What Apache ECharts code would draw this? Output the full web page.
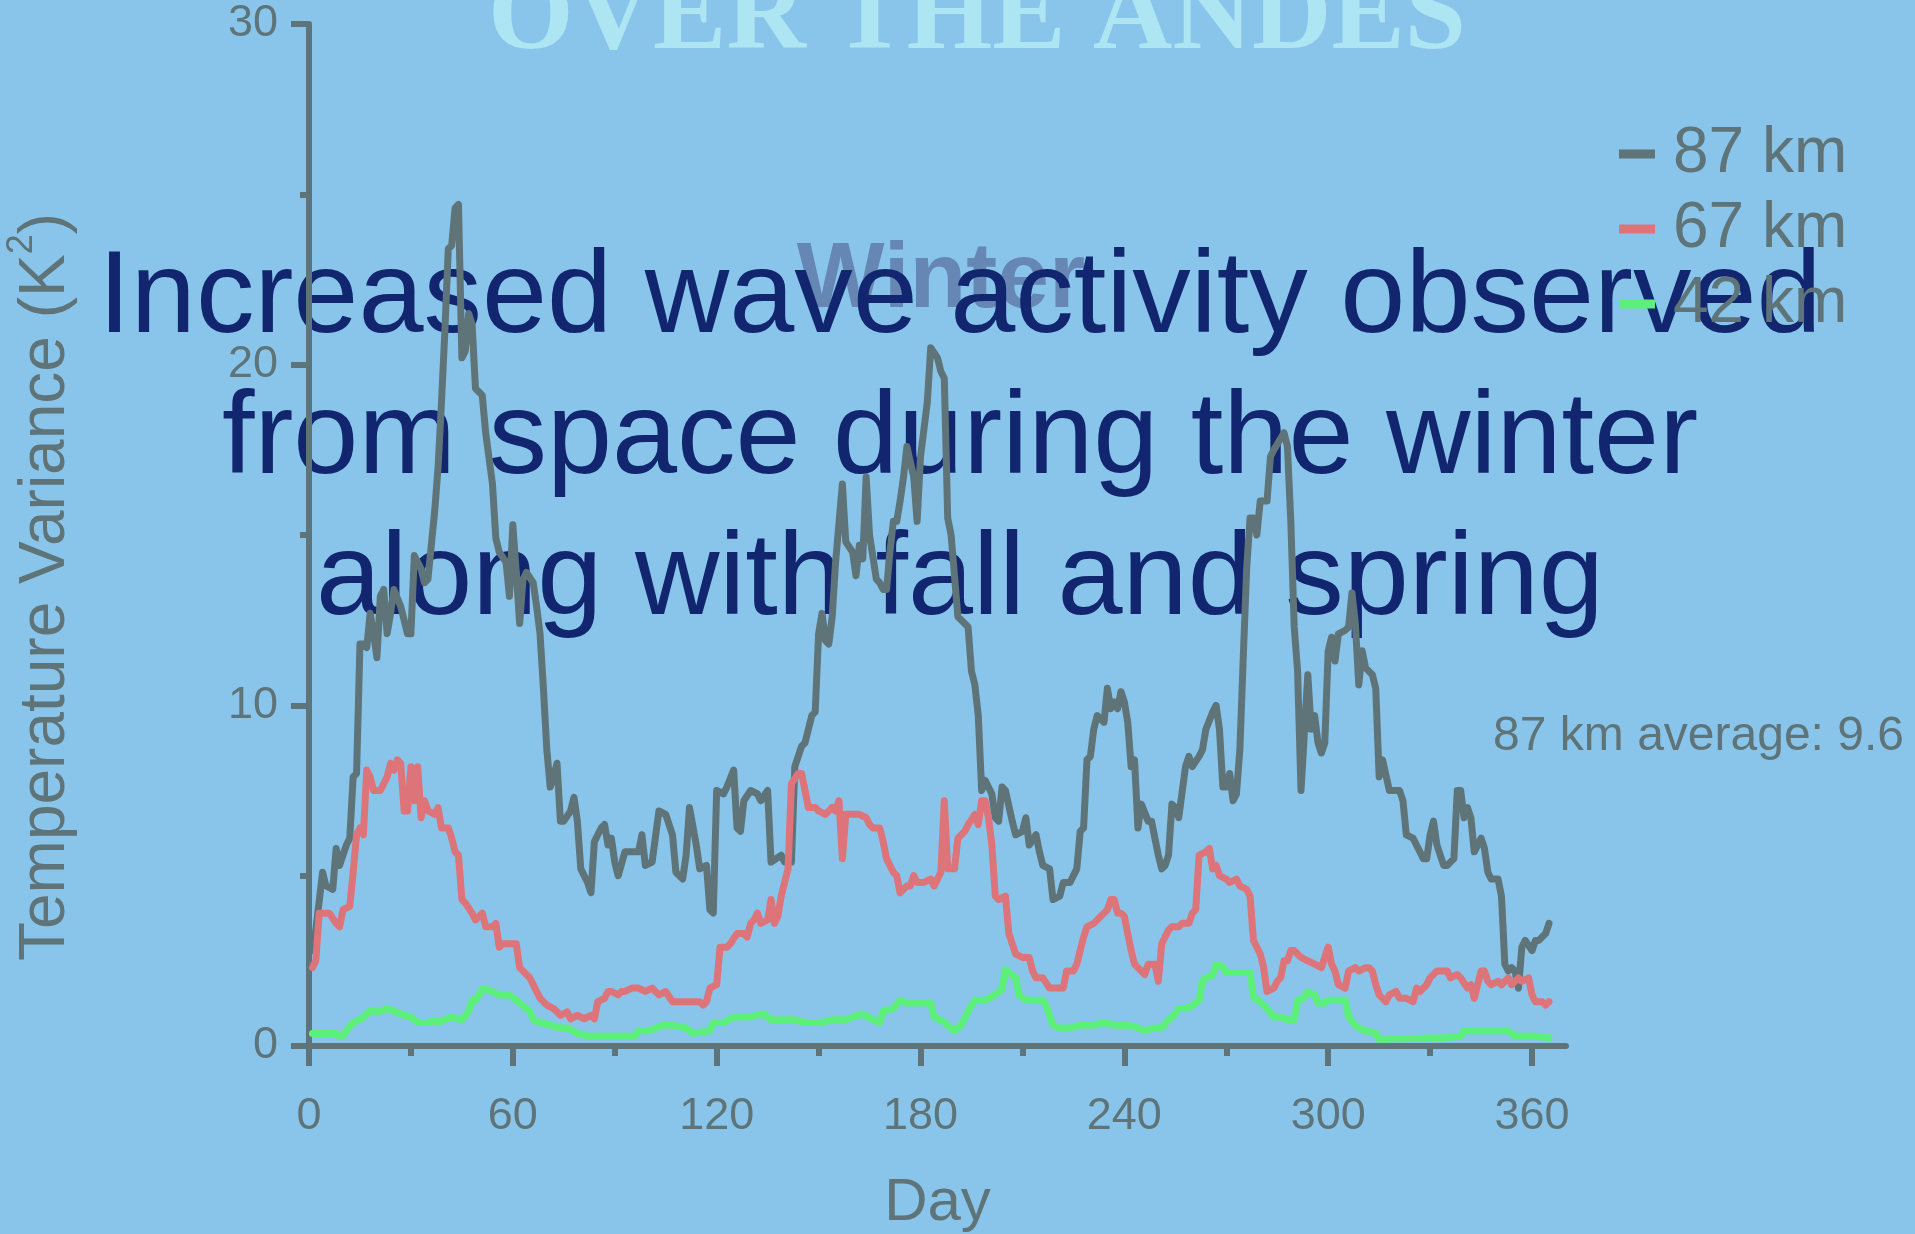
<!DOCTYPE html>
<html>
<head>
<meta charset="utf-8">
<title>Gravity wave temperature variance over the Andes</title>
<script src="https://cdn.jsdelivr.net/npm/echarts@6/dist/echarts.min.js"></script>
<style>
  html, body { margin: 0; padding: 0; background: #89c5ea; }
  #chart { width: 1915px; height: 1234px; }
</style>
</head>
<body>
<div id="chart"></div>
<script>
// Daily temperature variance (K^2) at three altitudes, [day, value]
const km87 = [[1,2.8],[2,3.4],[4,5.1],[5,4.7],[7,4.6],[8,5.8],[9,5.3],[11,5.9],[12,6.1],[13,7.9],[14,8.0],[15,11.8],[16,11.8],[17,11.7],[18,12.7],[19,12.1],[20,11.4],[21,13.2],[22,13.4],[23,12.1],[24,12.7],[25,13.4],[27,12.9],[29,12.1],[30,12.1],[31,14.4],[33,14.0],[34,13.6],[35,13.7],[37,15.7],[38,17.0],[39,18.9],[40,21.0],[41,23.4],[42,23.5],[43,24.6],[44,24.7],[45,20.2],[46,20.4],[47,21.5],[48,21.2],[49,19.3],[51,19.1],[52,18.0],[54,16.5],[55,14.9],[56,14.5],[58,14.2],[59,13.2],[60,15.3],[61,13.9],[62,12.4],[63,13.7],[64,13.9],[66,13.6],[67,12.9],[68,12.1],[69,10.5],[70,8.7],[71,7.6],[72,7.9],[73,8.3],[74,6.6],[75,6.6],[77,6.9],[78,7.3],[79,6.6],[80,5.2],[82,4.8],[83,4.5],[84,6.0],[86,6.4],[87,6.5],[88,5.9],[89,6.1],[90,5.4],[91,5.0],[93,5.7],[95,5.7],[97,5.7],[98,6.2],[99,5.3],[101,5.4],[103,6.9],[105,6.8],[107,6.2],[108,5.1],[110,4.9],[111,5.6],[112,7.0],[114,5.9],[115,5.2],[117,5.3],[118,4.0],[119,3.9],[120,7.5],[122,7.4],[123,7.6],[125,8.1],[126,6.4],[127,6.3],[128,7.2],[130,7.5],[132,7.4],[133,7.2],[135,7.5],[136,5.4],[139,5.6],[140,5.4],[142,5.4],[143,8.2],[145,8.8],[146,8.9],[148,9.7],[149,9.8],[150,12.1],[151,12.7],[152,11.9],[153,11.8],[154,12.6],[155,14.2],[157,16.5],[158,14.8],[160,14.5],[161,13.8],[162,14.7],[163,14.3],[164,16.7],[165,15.0],[167,13.7],[168,13.6],[169,13.4],[170,13.4],[171,14.5],[172,15.4],[173,15.4],[174,16.0],[175,16.7],[176,17.6],[178,16.7],[179,15.4],[180,17.3],[182,18.9],[183,20.5],[185,20.2],[186,19.8],[187,19.6],[188,15.5],[189,15.0],[191,12.6],[193,12.4],[194,12.3],[195,11.0],[196,10.6],[197,9.7],[198,7.5],[199,7.8],[201,7.4],[202,6.7],[203,6.6],[204,7.6],[205,7.5],[207,6.6],[208,6.2],[210,6.3],[211,6.7],[212,5.9],[214,6.2],[215,5.7],[216,5.3],[218,5.2],[219,4.3],[221,4.4],[222,4.8],[224,4.8],[225,5.0],[226,5.2],[227,6.3],[228,6.4],[229,8.4],[230,8.5],[231,9.3],[232,9.7],[234,9.5],[235,10.5],[236,9.9],[237,10.1],[238,9.9],[239,10.4],[240,10.1],[241,9.5],[242,8.2],[243,8.4],[244,6.4],[245,7.1],[247,6.6],[248,6.6],[249,6.1],[250,5.6],[251,5.2],[252,5.3],[253,5.6],[254,7.1],[255,7.0],[256,6.7],[258,8.2],[259,8.5],[260,8.2],[262,8.5],[263,8.7],[264,9.3],[266,9.8],[267,10.0],[268,9.3],[269,7.6],[270,7.6],[271,8.0],[272,7.2],[273,7.4],[274,8.7],[275,11.4],[276,14.0],[277,15.5],[278,15.5],[279,15.0],[280,16.0],[282,16.0],[283,17.3],[284,17.5],[287,18.0],[288,17.6],[289,15.4],[290,12.3],[291,11.0],[292,7.5],[293,9.2],[294,10.9],[295,9.3],[296,9.7],[297,8.9],[298,8.6],[299,8.9],[300,11.6],[301,12.0],[302,11.3],[303,12.1],[305,12.2],[306,12.3],[307,13.3],[308,12.4],[309,10.6],[310,11.6],[311,11.1],[313,10.9],[314,10.5],[315,7.9],[316,8.4],[318,7.5],[319,7.5],[321,7.5],[322,7.2],[323,6.2],[325,6.1],[327,5.7],[328,5.5],[329,5.5],[330,6.2],[331,6.6],[332,5.9],[334,5.3],[335,5.3],[337,5.5],[338,7.5],[339,7.5],[340,6.7],[341,7.0],[342,6.7],[343,5.7],[345,6.1],[346,5.8],[347,5.1],[348,4.9],[350,4.9],[351,4.4],[352,2.4],[353,2.2],[354,2.3],[355,2.2],[356,1.7],[357,2.9],[358,3.1],[360,2.8],[361,3.1],[362,3.1],[364,3.3],[365,3.6]];

const km67 = [[1,2.3],[2,2.5],[3,3.9],[4,3.9],[6,3.9],[8,3.6],[9,3.5],[10,4.0],[12,4.1],[13,5.1],[14,6.2],[15,6.4],[16,6.2],[17,8.1],[18,7.9],[19,7.5],[21,7.5],[23,7.9],[24,8.3],[25,8.1],[26,8.4],[27,8.3],[28,6.9],[29,6.9],[30,8.2],[31,7.2],[32,8.2],[33,6.7],[34,7.2],[35,6.9],[37,6.8],[38,7.0],[39,6.4],[41,6.4],[42,6.1],[43,5.7],[44,5.6],[45,4.3],[46,4.2],[48,3.9],[49,3.7],[51,3.9],[52,3.5],[54,3.5],[55,3.6],[56,2.9],[57,3.0],[59,3.0],[61,3.0],[62,2.3],[64,2.1],[65,2.0],[67,1.6],[68,1.4],[70,1.2],[72,1.1],[74,0.9],[76,1.0],[77,0.8],[79,0.9],[81,0.8],[83,0.9],[84,0.8],[85,1.3],[87,1.4],[88,1.6],[89,1.6],[91,1.5],[92,1.6],[93,1.6],[95,1.7],[97,1.7],[99,1.6],[101,1.7],[103,1.5],[105,1.6],[107,1.3],[109,1.3],[111,1.3],[113,1.3],[115,1.3],[116,1.2],[117,1.3],[118,1.7],[120,1.8],[121,2.9],[123,2.9],[124,3.0],[126,3.3],[128,3.3],[129,3.2],[130,3.6],[131,3.7],[132,3.9],[133,3.6],[135,3.7],[136,4.3],[137,3.6],[138,3.8],[139,4.4],[140,4.8],[141,5.2],[142,7.7],[144,8.0],[145,8.0],[146,7.5],[147,7.0],[149,7.0],[150,6.9],[152,6.8],[154,7.0],[155,6.9],[156,7.2],[157,5.5],[158,6.8],[160,6.8],[162,6.8],[164,6.7],[165,6.5],[166,6.4],[168,6.4],[169,6.0],[170,5.5],[172,5.1],[173,5.0],[174,4.5],[176,4.7],[177,4.7],[178,5.0],[179,4.8],[181,4.8],[183,4.9],[184,4.7],[186,5.1],[187,7.2],[188,5.2],[190,5.2],[191,6.1],[193,6.3],[194,6.5],[196,6.8],[197,6.5],[198,7.2],[199,7.2],[200,6.7],[201,5.9],[202,4.4],[203,4.3],[205,4.4],[206,3.3],[207,3.0],[208,2.7],[210,2.6],[212,2.6],[213,2.2],[214,2.0],[216,2.0],[218,1.7],[219,1.7],[221,1.7],[222,1.7],[223,2.2],[225,2.2],[226,2.4],[227,2.8],[228,3.2],[229,3.5],[231,3.6],[233,3.8],[234,3.9],[235,4.0],[236,4.3],[237,4.3],[238,3.9],[239,3.9],[240,3.8],[241,3.3],[242,2.8],[243,2.4],[245,2.2],[246,2.1],[247,2.4],[249,2.4],[250,1.9],[251,3.0],[253,3.4],[254,3.5],[256,3.5],[257,3.6],[259,3.6],[260,3.9],[261,4.0],[262,5.6],[264,5.7],[265,5.8],[266,5.2],[267,5.3],[268,5.0],[270,4.9],[271,4.8],[273,4.9],[274,4.7],[276,4.6],[277,4.4],[278,3.1],[279,2.9],[280,2.7],[281,2.3],[282,1.6],[284,1.7],[285,1.9],[286,2.0],[287,2.5],[288,2.5],[289,2.8],[290,2.8],[292,2.6],[294,2.5],[296,2.4],[298,2.3],[299,2.6],[300,2.9],[301,2.4],[302,2.2],[303,1.8],[305,1.7],[306,2.2],[308,2.3],[309,2.2],[311,2.3],[312,2.3],[313,2.2],[314,1.8],[315,1.5],[317,1.3],[318,1.5],[320,1.6],[321,1.4],[323,1.4],[325,1.3],[326,1.7],[327,1.6],[328,1.7],[329,1.8],[330,2.0],[332,2.2],[333,2.2],[335,2.2],[336,2.0],[338,2.1],[339,2.0],[341,1.7],[342,1.8],[343,1.4],[345,2.2],[346,2.2],[347,1.9],[348,1.8],[350,1.9],[351,1.8],[353,2.0],[354,1.8],[356,2.0],[357,1.9],[359,2.0],[360,1.5],[361,1.3],[363,1.3],[364,1.2],[365,1.3]];

const km42 = [[1,0.37],[8,0.37],[9,0.3],[10,0.3],[11,0.45],[13,0.69],[15,0.77],[17,0.94],[18,1.02],[21,1.02],[23,1.1],[25,1.02],[27,0.94],[30,0.85],[32,0.69],[35,0.69],[37,0.75],[38,0.69],[40,0.77],[42,0.85],[45,0.77],[47,1.02],[48,1.34],[49,1.34],[51,1.67],[52,1.67],[54,1.59],[56,1.5],[59,1.5],[61,1.34],[63,1.18],[65,1.02],[66,0.77],[68,0.69],[71,0.61],[74,0.53],[76,0.53],[79,0.37],[82,0.29],[96,0.29],[97,0.45],[100,0.45],[104,0.61],[107,0.61],[111,0.53],[113,0.37],[118,0.45],[119,0.69],[122,0.69],[125,0.85],[129,0.85],[134,0.94],[136,0.77],[143,0.77],[146,0.69],[151,0.69],[154,0.77],[158,0.77],[160,0.85],[163,0.94],[166,0.77],[168,0.69],[169,1.02],[172,1.1],[174,1.34],[176,1.26],[183,1.26],[184,0.85],[187,0.7],[188,0.6],[190,0.45],[192,0.61],[194,1.02],[196,1.34],[199,1.34],[202,1.5],[204,1.67],[205,2.24],[206,2.16],[208,2.0],[209,1.5],[211,1.34],[216,1.34],[217,1.18],[219,0.61],[221,0.53],[224,0.53],[227,0.61],[231,0.61],[234,0.69],[237,0.61],[241,0.61],[244,0.53],[246,0.45],[249,0.53],[251,0.53],[253,0.77],[255,0.94],[256,1.1],[258,1.1],[260,1.18],[262,1.34],[263,1.91],[264,2.0],[266,2.08],[267,2.4],[269,2.32],[270,2.16],[277,2.16],[278,1.43],[280,1.3],[282,1.1],[284,0.85],[286,0.85],[288,0.77],[290,0.77],[291,1.34],[293,1.43],[294,1.59],[296,1.5],[297,1.26],[299,1.26],[300,1.34],[305,1.34],[306,0.85],[308,0.61],[309,0.53],[311,0.45],[314,0.37],[315,0.2],[334,0.24],[339,0.29],[340,0.45],[353,0.45],[355,0.29],[361,0.29],[365,0.24]];

const seriesNames = ['87 km', '67 km', '42 km'];
const majorDays = [0, 60, 120, 180, 240, 300, 360];
const minorDays = [30, 90, 150, 210, 270, 330];
const AVG_87 = 9.6;

const GREY = '#5f7478';
const SANS = '"Liberation Sans", Arial, Helvetica, sans-serif';
const SERIF = '"Liberation Serif", "Times New Roman", serif';

const chart = echarts.init(document.getElementById('chart'), null, { renderer: 'canvas' });

const axisLine = { color: GREY, width: 6 };

chart.setOption({
  backgroundColor: '#89c5ea',
  animation: false,
  color: [GREY, '#dd7479', '#5cf07a'],
  grid: { left: 309, right: 349, top: 24, bottom: 188, containLabel: false, outerBoundsMode: 'none' },
  legend: {
    orient: 'vertical',
    left: 1614,
    top: 113,
    padding: 5,
    icon: 'rect',
    itemWidth: 36,
    itemHeight: 9,
    itemGap: 3,
    itemStyle: { borderWidth: 0 },
    textStyle: { color: GREY, fontSize: 64, fontFamily: SANS, lineHeight: 62, padding: [0, 0, 10, 13] },
    data: seriesNames
  },
  xAxis: [
    {
      type: 'value', min: 0, max: 370, position: 'bottom',
      axisLine: { show: true, onZero: false, lineStyle: axisLine },
      axisTick: { show: true, length: 20, customValues: majorDays, lineStyle: axisLine },
      axisLabel: { customValues: majorDays, margin: 48, color: GREY, fontSize: 45, fontFamily: SANS, lineHeight: 45 },
      splitLine: { show: false },
      name: 'Day', nameLocation: 'middle', nameGap: 127,
      nameTextStyle: { color: GREY, fontSize: 60, fontFamily: SANS, lineHeight: 60 }
    },
    {
      type: 'value', min: 0, max: 370, position: 'bottom', offset: 0,
      axisLine: { show: false },
      axisTick: { show: true, length: 10, customValues: minorDays, lineStyle: axisLine },
      axisLabel: { show: false },
      splitLine: { show: false }
    }
  ],
  yAxis: {
    type: 'value', min: 0, max: 30, interval: 10,
    axisLine: { show: true, onZero: false, lineStyle: axisLine },
    axisTick: { show: true, length: 18, lineStyle: axisLine },
    minorTick: { show: true, splitNumber: 2, length: 9, lineStyle: axisLine },
    axisLabel: { margin: 31, color: GREY, fontSize: 45, fontFamily: SANS },
    splitLine: { show: false },
    minorSplitLine: { show: false }
  },
  series: [km87, km67, km42].map((data, i) => ({
    name: seriesNames[i],
    type: 'line',
    data: data,
    symbol: 'none',
    showSymbol: false,
    z: 3,
    lineStyle: { width: 7, join: 'round', cap: 'round' },
    emphasis: { disabled: true }
  })),
  graphic: [
    {
      type: 'text', x: 977, y: 20, z: -1,
      style: {
        text: 'OVER THE ANDES', fill: '#aee5f3',
        font: 'bold 110px ' + SERIF,
        align: 'center', verticalAlign: 'middle'
      }
    },
    {
      type: 'text', x: 941, y: 281, z: -1,
      style: {
        text: 'Winter', fill: '#6686b4',
        font: 'bold 93px ' + SANS,
        align: 'center', verticalAlign: 'middle'
      }
    },
    {
      type: 'text', x: 960, y: 441, z: -1,
      style: {
        text: 'Increased wave activity observed\nfrom space during the winter\nalong with fall and spring',
        fill: '#12256f',
        font: '117px ' + SANS,
        lineHeight: 141,
        align: 'center', verticalAlign: 'middle'
      }
    },
    {
      type: 'text', x: 46, y: 587, rotation: Math.PI / 2, z: -1,
      style: {
        text: 'Temperature Variance (K{sup|2})',
        fill: GREY,
        font: '64px ' + SANS,
        lineHeight: 84,
        align: 'center', verticalAlign: 'middle',
        rich: {
          sup: { fill: GREY, font: '36px ' + SANS, fontSize: 36, lineHeight: 38, verticalAlign: 'top' }
        }
      }
    },
    {
      type: 'text', x: 1904, y: 737, z: -1,
      style: {
        text: '87 km average: ' + AVG_87,
        fill: GREY,
        font: '48px ' + SANS,
        align: 'right', verticalAlign: 'middle'
      }
    }
  ]
});
</script>
</body>
</html>
